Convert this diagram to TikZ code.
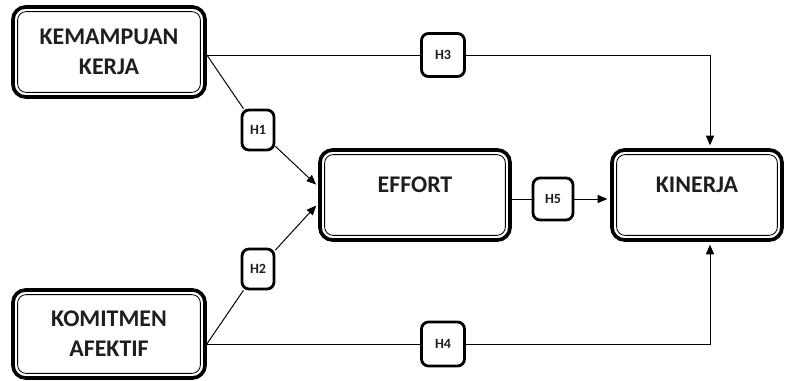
\documentclass[tikz,border=0pt]{standalone}
\usepackage{fontspec}
\setmainfont{Carlito}
\usepackage{tikz}
\usepackage{xcolor}
\usetikzlibrary{arrows.meta,calc}
\definecolor{hyink}{HTML}{1E1E1E}
\tikzset{
  varBox/.style={draw=black, line width=2.6pt, rounded corners=9pt, fill=white, align=center, text=hyink, font=\fontsize{17}{21.5}\selectfont\bfseries, minimum height=2.25cm},
  innerLine/.style={draw=black, line width=0.6pt, rounded corners=6pt},
  hypBox/.style={draw=black, line width=2pt, rounded corners=5pt, fill=white, text=hyink, font=\fontsize{10}{12}\selectfont\bfseries, inner sep=0pt},
  link/.style={draw=black, line width=0.7pt},
  linkArrow/.style={-{Triangle[length=2.4mm,width=2mm]}, draw=black, line width=0.7pt, shorten >=2pt}
}
\begin{document}
\begin{tikzpicture}[x=0.025cm,y=0.025cm]
  \useasboundingbox (0,0) rectangle (792,381);
  % variables
  \node[varBox, minimum width=4.8cm] (kemampuan) at (109,329) {KEMAMPUAN\\KERJA};
  \node[varBox, minimum width=4.8cm, minimum height=2.2cm] (komitmen) at (109,47) {KOMITMEN\\AFEKTIF};
  \node[varBox, minimum width=4.75cm, text depth=14pt] (effort) at (415,186) {EFFORT};
  \node[varBox, minimum width=4.25cm, text depth=14pt] (kinerja) at (697,186) {KINERJA};
  \foreach \v in {kemampuan,komitmen,effort,kinerja}{
    \path (\v.south west) ++(4.6pt,4.6pt) coordinate (sw);
    \path (\v.north east) ++(-4.6pt,-4.6pt) coordinate (ne);
    \draw[innerLine] (sw) rectangle (ne);
  }
  % hypotheses
  \node[hypBox, minimum width=0.8cm, minimum height=1cm] (h1) at (258,251) {H1};
  \node[hypBox, minimum width=0.8cm, minimum height=1cm] (h2) at (258,112) {H2};
  \node[hypBox, minimum width=1.075cm, minimum height=1.075cm] (h3) at (443,326) {H3};
  \node[hypBox, minimum width=1.075cm, minimum height=1.1cm] (h4) at (443,37) {H4};
  \node[hypBox, minimum width=1cm, minimum height=1.05cm] (h5) at (553,182) {H5};
  % paths
  \coordinate (kout) at (kemampuan.east |- h3);
  \coordinate (aout) at (komitmen.east |- h4);
  \coordinate (ktop) at ($(kinerja.north)+(13,0)$);
  \coordinate (kbot) at ($(kinerja.south)+(13,0)$);
  \draw[link] (kout) -- (h3);
  \draw[linkArrow] (h3) -| (ktop);
  \draw[link] (kout) -- (h1);
  \draw[linkArrow] (h1) -- (effort.175);
  \draw[link] (aout) -- (h4);
  \draw[linkArrow] (h4) -| (kbot);
  \draw[link] (aout) -- (h2);
  \draw[linkArrow] (h2) -- (effort.185);
  \draw[link] (effort.east |- h5) -- (h5);
  \draw[linkArrow] (h5) -- (kinerja.west |- h5);
\end{tikzpicture}
\end{document}
